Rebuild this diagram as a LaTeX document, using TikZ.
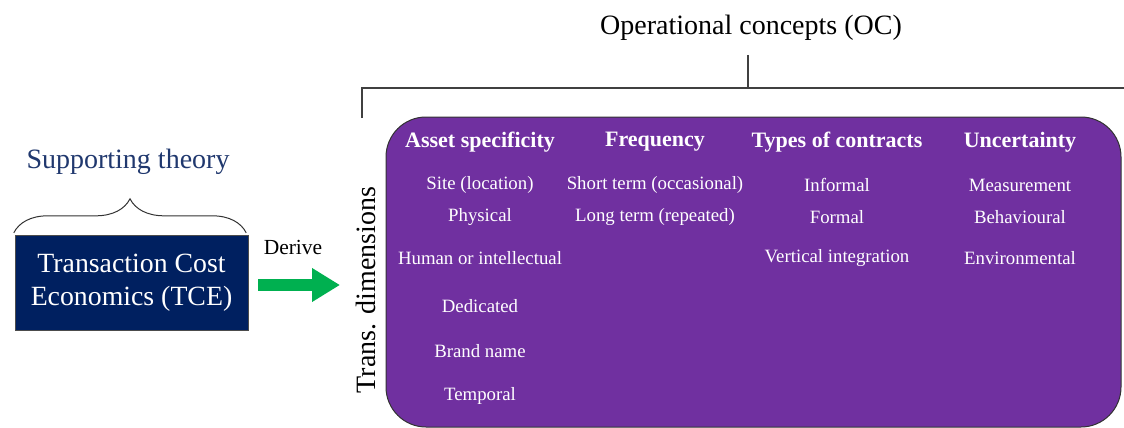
\documentclass[tikz,border=0pt]{standalone}
\usepackage{fontspec}
\setmainfont{Liberation Serif}
\usetikzlibrary{arrows.meta,positioning,decorations.pathreplacing}
\definecolor{tcenavy}{RGB}{0,32,96}
\definecolor{ocpurple}{RGB}{112,48,160}
\definecolor{thblue}{RGB}{32,56,110}
\definecolor{dgreen}{RGB}{0,176,80}
\tikzset{hd/.style={text=white, font=\bfseries\fontsize{22}{25}\selectfont}}
\tikzset{cell/.style={text=white, font=\fontsize{18.8}{22}\selectfont}}
\tikzstyle{big}=[font=\fontsize{28}{32}\selectfont]

\begin{document}
\begin{tikzpicture}[x=1pt, y=-1pt, inner sep=0pt]
\useasboundingbox (0,0) rectangle (1124,428);
% operational concepts bracket
\node[big] (OC) at (751,28) {Operational concepts (OC)};
\coordinate (OCtop) at (748,55);
\coordinate (OCmid) at (748,88);
\coordinate (OCleft) at (362,88);
\coordinate (OCright) at (1124,88);
\coordinate (OCdown) at (362,118);
\draw[line width=1.3pt, black!75] (OCtop) -- (OCmid) (OCdown) -- (OCleft) -- (OCright);
\node[draw=black!80, line width=1pt, fill=ocpurple, rounded corners=40pt, minimum width=735pt, minimum height=310pt] (BOX) at (753.5,272) {};
\node[big, rotate=90] (TD) at (366,290) {Trans. dimensions};
% supporting theory
\node[font=\fontsize{28}{32}\selectfont, text=thblue] (ST) at (128,162) {Supporting theory};
\node[draw=black!70, fill=tcenavy, text=white, minimum width=233pt, minimum height=95pt, align=center, font=\fontsize{27.8}{33}\selectfont] (TCE) at (131.5,282.5) {Transaction Cost\\Economics (TCE)};
\draw[decorate, decoration={brace, amplitude=34pt}, line width=1pt, black!80] ([xshift=-1pt,yshift=2pt]TCE.north west) -- ([xshift=-2pt,yshift=2pt]TCE.north east);
\node[font=\fontsize{21.5}{24}\selectfont] (DV) at (293,247) {Derive};
\coordinate (ArrEnd) at (340,285);
\draw[dgreen, line width=12pt, -{Triangle[length=28pt,width=32pt]}] ([xshift=10pt,yshift=-2.5pt]TCE.east) -- (ArrEnd);
% headers
\node[hd] (H1) at (480,142) {Asset specificity};
\node[hd] (H2) at (655,142) {Frequency};
\node[hd] (H3) at (837,142) {Types of contracts};
\node[hd] (H4) at (1020,142) {Uncertainty};
% asset specificity
\node[cell] (A1) at (480,185) {Site (location)};
\node[cell] (A2) at (480,217) {Physical};
\node[cell] (A3) at (480,258) {Human or intellectual};
\node[cell] (A4) at (480,306) {Dedicated};
\node[cell] (A5) at (480,351) {Brand name};
\node[cell] (A6) at (480,396) {Temporal};
% frequency
\node[cell] (F1) at (655,185) {Short term (occasional)};
\node[cell] (F2) at (655,217) {Long term (repeated)};
% contracts
\node[cell] (C1) at (837,185) {Informal};
\node[cell] (C2) at (837,217) {Formal};
\node[cell] (C3) at (837,258) {Vertical integration};
% uncertainty
\node[cell] (U1) at (1020,185) {Measurement};
\node[cell] (U2) at (1020,217) {Behavioural};
\node[cell] (U3) at (1020,258) {Environmental};
\end{tikzpicture}
\end{document}
